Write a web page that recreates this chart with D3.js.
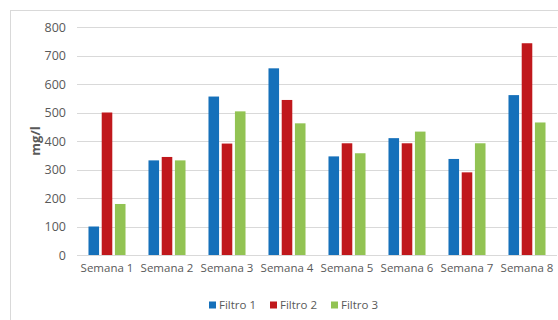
<!DOCTYPE html>
<html><head><meta charset="utf-8">
<script src="https://cdn.jsdelivr.net/npm/d3@7"></script>
<style>
html,body{margin:0;padding:0;background:#fff;}
svg{display:block;}
text{font-family:"Open Sans","Liberation Sans",sans-serif;}
</style></head>
<body>
<svg id="chart" width="558" height="320"></svg>
<script>
const categories = ["Semana 1","Semana 2","Semana 3","Semana 4","Semana 5","Semana 6","Semana 7","Semana 8"];
const seriesNames = ["Filtro 1","Filtro 2","Filtro 3"];
const filtro1 = [100, 332, 556, 655, 346, 410, 337, 561];
const filtro2 = [500, 344, 391, 544, 392, 392, 290, 743];
const filtro3 = [179, 332, 504, 462, 357, 433, 392, 465];
const yTicks = [0,100,200,300,400,500,600,700,800];
const colors = ["#1570BA","#C0181C","#92C353"];
const yLabel = "mg/l";

const seriesValues = [filtro1, filtro2, filtro3];
const svg = d3.select("#chart");

// chart border
svg.append("rect").attr("x",10.5).attr("y",10.5).attr("width",600).attr("height",400)
  .attr("fill","#fff").attr("stroke","#D9D9D9").attr("stroke-width",1);

const x0 = d3.scaleBand().domain(categories).range([77,557]).paddingInner(0.383).paddingOuter(0.1915);
const x1 = d3.scaleBand().domain(seriesNames).range([0,x0.bandwidth()]).paddingInner(0.2);
const y = d3.scaleLinear().domain([0,800]).range([255,27]);

// gridlines
svg.append("g").selectAll("line").data(yTicks).join("line")
  .attr("x1",77).attr("x2",557)
  .attr("y1",d=>Math.round(y(d))+0.5).attr("y2",d=>Math.round(y(d))+0.5)
  .attr("stroke","#D9D9D9").attr("stroke-width",1);

// y axis labels
const yAxis = d3.axisLeft(y).tickValues(yTicks).tickSize(0).tickPadding(0);
const ya = svg.append("g").attr("transform","translate(66,0)").call(yAxis);
ya.select(".domain").remove();
ya.selectAll("text").attr("fill","#595959").style("font-size","12.5px")
  .style("font-family","'Open Sans',sans-serif").attr("dy","0.35em");

// x axis labels
const xAxis = d3.axisBottom(x0).tickSize(0).tickPadding(0);
const xa = svg.append("g").attr("transform","translate(0,268)").call(xAxis);
xa.select(".domain").remove();
xa.selectAll("text").attr("fill","#595959").style("font-size","11.5px")
  .style("font-family","'Open Sans',sans-serif").attr("dy","0.35em");

// bars
const groups = svg.append("g").selectAll("g").data(categories).join("g")
  .attr("transform",c=>`translate(${x0(c)},0)`);
groups.selectAll("rect").data((c,i)=>seriesNames.map((s,j)=>({s, j, v: seriesValues[j][i]})))
  .join("rect")
  .attr("x",d=>x1(d.s)).attr("width",x1.bandwidth())
  .attr("y",d=>y(d.v)).attr("height",d=>y(0)-y(d.v))
  .attr("fill",d=>colors[d.j]);

// y title
svg.append("text").attr("transform","translate(35,141) rotate(-90)")
  .attr("text-anchor","middle").attr("dy","0.35em")
  .attr("fill","#595959").style("font-size","13px").style("font-weight","bold")
  .text(yLabel);

// legend
const legendX = [209, 270, 331];
const lg = svg.append("g").selectAll("g").data(seriesNames).join("g")
  .attr("transform",(d,i)=>`translate(${legendX[i]},305)`);
lg.append("rect").attr("x",0).attr("y",-3.5).attr("width",7).attr("height",7)
  .attr("fill",(d,i)=>colors[i]);
lg.append("text").attr("x",10).attr("dy","0.35em").attr("fill","#595959")
  .style("font-size","11.5px").text(d=>d);
</script>
</body></html>
